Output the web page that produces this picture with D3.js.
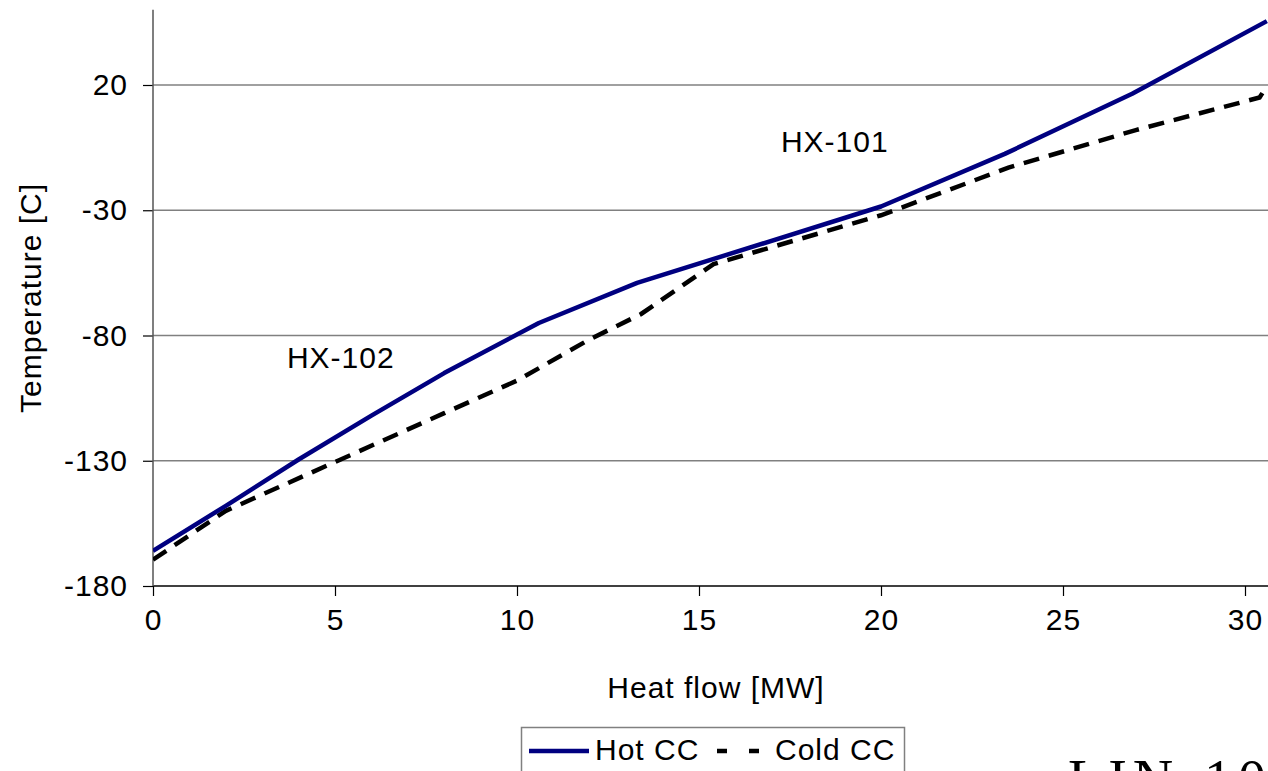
<!DOCTYPE html>
<html><head><meta charset="utf-8">
<script src="https://cdn.jsdelivr.net/npm/d3@7"></script>
<style>body{margin:0;background:#fff;}svg{display:block;font-family:Arial,"Liberation Sans",sans-serif;}</style>
</head><body>
<svg id="c" width="1268" height="771"></svg>
<script>
const hotQ = [0, 2, 4, 6, 8, 10.6, 13.3, 20, 23.4, 26.9, 30.6];
const hotT = [-166, -148, -129.5, -112, -95, -75, -59, -28.5, -7.5, 16.5, 45.5];
const coldQ = [0, 2, 5, 8, 10, 12, 13.4, 15.4, 20, 23.5, 27, 30.4, 30.6];
const coldT = [-169.5, -150, -130.5, -111, -98, -81.5, -71.5, -51.5, -32, -13, 2, 15, 19.5];
const xTicks = [0, 5, 10, 15, 20, 25, 30];
const yTicks = [-180, -130, -80, -30, 20];
const labels = [{t:"HX-102", q:3.68, v:-92.8}, {t:"HX-101", q:17.25, v:-6.8}];

const FS = 30, LS = 1;
const svg = d3.select("#c");
const x = d3.scaleLinear().domain([0, 30]).range([153, 1245]);
const y = d3.scaleLinear().domain([-180, 20]).range([586, 85]);
const xEnd = 1268;
const fmt = d => String(d);

// gridlines
svg.append("g").selectAll("line").data(yTicks.filter(d => d > -180)).join("line")
  .attr("x1", 153).attr("x2", xEnd).attr("y1", d => y(d)).attr("y2", d => y(d))
  .attr("stroke", "#808080").attr("stroke-width", 1.5);

// axes
const xAxis = d3.axisBottom(x).tickValues(xTicks).tickSize(10).tickPadding(13).tickFormat(fmt);
const gx = svg.append("g").attr("transform", "translate(0,586)").call(xAxis);
gx.select(".domain").remove();
gx.append("line").attr("x1", 153).attr("x2", xEnd).attr("y1", 0).attr("y2", 0).attr("stroke", "#000").attr("stroke-width", 1.5);
gx.selectAll(".tick line").attr("stroke", "#000").attr("stroke-width", 1.2);
gx.selectAll(".tick text").attr("font-size", FS).attr("letter-spacing", LS).attr("fill", "#000").attr("font-family", "Arial, 'Liberation Sans', sans-serif");

const yAxis = d3.axisLeft(y).tickValues(yTicks).tickSize(10).tickPadding(15).tickFormat(fmt);
const gy = svg.append("g").attr("transform", "translate(153,0)").call(yAxis);
gy.select(".domain").remove();
gy.append("line").attr("x1", 0).attr("x2", 0).attr("y1", 586).attr("y2", y(50)).attr("stroke", "#555").attr("stroke-width", 1.5);
gy.selectAll(".tick line").attr("stroke", "#000").attr("stroke-width", 1.2);
gy.selectAll(".tick text").attr("font-size", FS).attr("letter-spacing", LS).attr("fill", "#000").attr("font-family", "Arial, 'Liberation Sans', sans-serif");

// axis titles
svg.append("text").attr("x", 716).attr("y", 698).attr("text-anchor", "middle").attr("font-size", FS).attr("letter-spacing", LS).text("Heat flow [MW]");
svg.append("text").attr("transform", "translate(41,298) rotate(-90)").attr("text-anchor", "middle").attr("font-size", FS).attr("letter-spacing", LS).text("Temperature [C]");

// curves
svg.append("clipPath").attr("id", "pc").append("rect").attr("x", 153).attr("y", 0).attr("width", xEnd - 153).attr("height", 586);
const line = d3.line().x(d => x(d[0])).y(d => y(d[1]));
const cold = coldQ.map((q, i) => [q, coldT[i]]);
const hot = hotQ.map((q, i) => [q, hotT[i]]);
svg.append("path").datum(cold).attr("d", line).attr("fill", "none").attr("stroke", "#000")
  .attr("stroke-width", 4.5).attr("stroke-dasharray", "16,10").attr("clip-path", "url(#pc)");
svg.append("path").datum(hot).attr("d", line).attr("fill", "none").attr("stroke", "#000080")
  .attr("stroke-width", 4.5).attr("stroke-linejoin", "round").attr("clip-path", "url(#pc)");

// annotations
svg.append("g").selectAll("text").data(labels).join("text")
  .attr("x", d => x(d.q)).attr("y", d => y(d.v)).attr("font-size", FS).attr("letter-spacing", LS).attr("fill", "#000").text(d => d.t);

// legend
const lg = svg.append("g");
lg.append("rect").attr("x", 521.5).attr("y", 727.5).attr("width", 383).attr("height", 60).attr("fill", "#fff").attr("stroke", "#808080").attr("stroke-width", 1.5);
lg.append("line").attr("x1", 529).attr("x2", 589).attr("y1", 751).attr("y2", 751).attr("stroke", "#000080").attr("stroke-width", 4.5);
lg.append("text").attr("x", 595).attr("y", 760).attr("font-size", FS).attr("letter-spacing", LS).text("Hot CC");
lg.append("line").attr("x1", 717).attr("x2", 760).attr("y1", 751).attr("y2", 751).attr("stroke", "#000").attr("stroke-width", 4.5).attr("stroke-dasharray", "10,22");
lg.append("text").attr("x", 775).attr("y", 760).attr("font-size", FS).attr("letter-spacing", LS).text("Cold CC");

// cut-off serif text
svg.append("text").attr("x", 1068).attr("y", 799).attr("font-family", "'Liberation Serif','DejaVu Serif',serif").attr("font-size", 56).attr("letter-spacing", 6).text("LIN-101");
</script>
</body></html>
